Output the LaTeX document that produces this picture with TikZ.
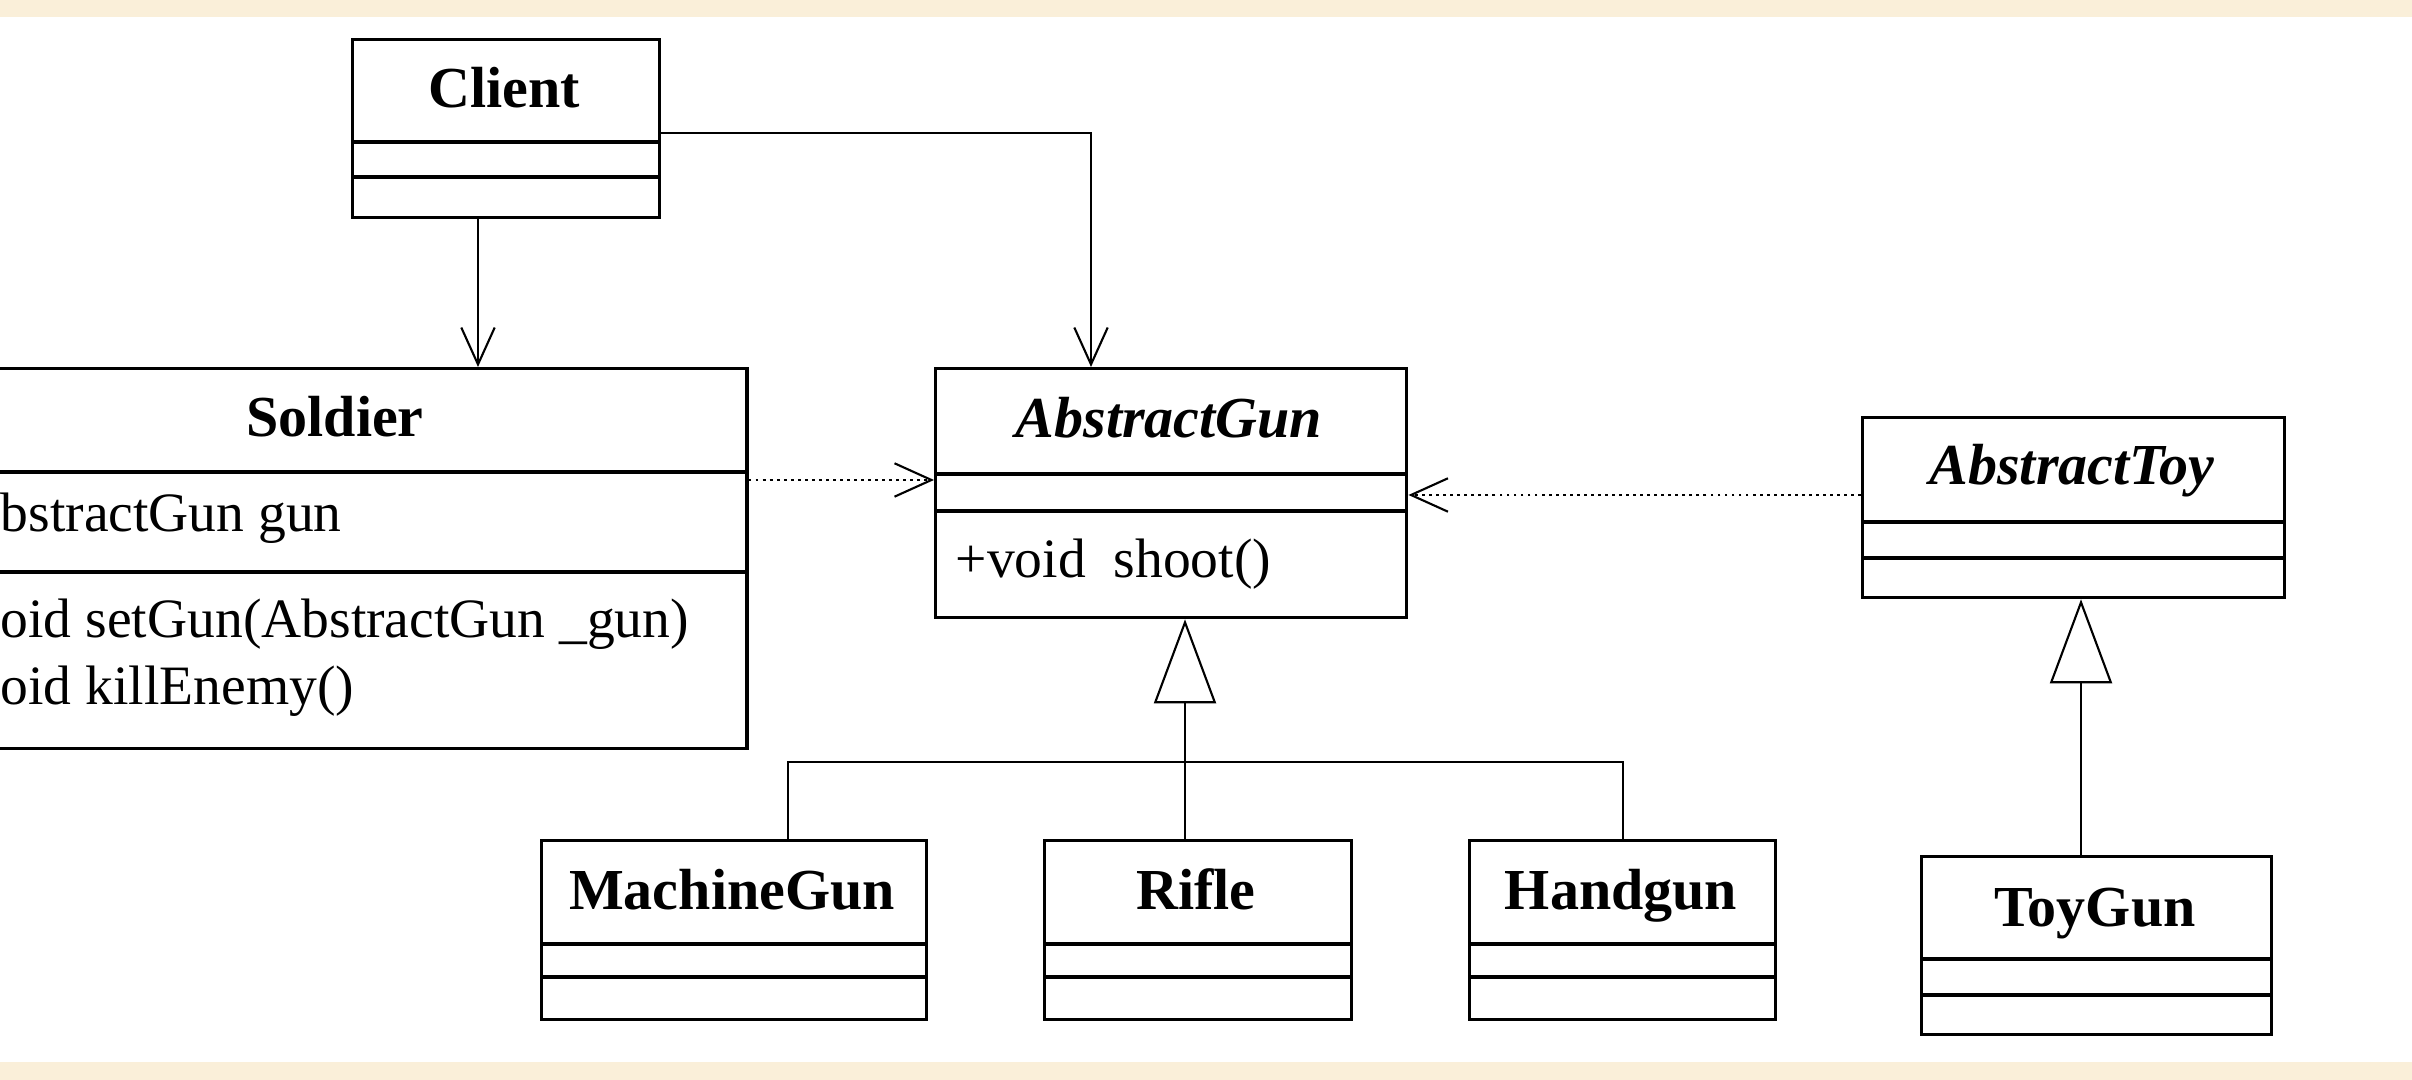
\documentclass[tikz,border=0pt]{standalone}
\usepackage{fontspec}
\setmainfont{Liberation Serif}
\usetikzlibrary{arrows.meta}

\definecolor{cream}{RGB}{250,239,217}

\begin{document}
\begin{tikzpicture}[
    x=0.01cm, y=-0.01cm,
    font=\fontsize{15.8}{19}\selectfont,
    cls/.style={draw=black, line width=0.9pt, fill=white, anchor=north west, inner sep=0pt, minimum height=1.78cm},
    clsname/.style={font=\fontsize{16.5}{20}\selectfont\bfseries, anchor=base, inner sep=0pt},
    absname/.style={clsname, font=\fontsize{16.5}{20}\selectfont\bfseries\itshape},
    member/.style={anchor=base west, inner sep=0pt},
    divider/.style={line width=0.9pt},
    link/.style={line width=0.6pt},
    assoc/.style={link, -{Straight Barb[length=10.5pt, width=9.5pt]}},
    dep/.style={assoc, dash pattern=on 0.8pt off 1.2pt},
    inherit/.style={link, -{Triangle[open, length=0.84cm, width=0.62cm, fill=white]}}
]
\useasboundingbox (0,0) rectangle (2412,1080);
\clip (0,0) rectangle (2412,1080);
\fill[cream] (0,0) rectangle (2412,1080);
\fill[white] (0,17) rectangle (2412,1062);

% classes
\node[cls, minimum width=3.07cm] (client) at (351,38) {};
\node[cls, minimum width=8.2cm, minimum height=3.8cm] (soldier) at (-75,367) {};
\node[cls, minimum width=4.71cm, minimum height=2.49cm] (agun) at (934,367) {};
\node[cls, minimum width=4.22cm, minimum height=1.8cm] (atoy) at (1861,416) {};
\node[cls, minimum width=3.85cm, minimum height=1.79cm] (mgun) at (540,839) {};
\node[cls, minimum width=3.07cm, minimum height=1.79cm] (rifle) at (1043,839) {};
\node[cls, minimum width=3.06cm, minimum height=1.79cm] (hgun) at (1468,839) {};
\node[cls, minimum width=3.5cm] (toygun) at (1920,855) {};

% compartments
\draw[divider] (client.west |- 0,142) -- (client.east |- 0,142) (client.west |- 0,177) -- (client.east |- 0,177);
\draw[divider] (soldier.west |- 0,472) -- (soldier.east |- 0,472) (soldier.west |- 0,572) -- (soldier.east |- 0,572);
\draw[divider] (agun.west |- 0,474) -- (agun.east |- 0,474) (agun.west |- 0,511) -- (agun.east |- 0,511);
\draw[divider] (atoy.west |- 0,522) -- (atoy.east |- 0,522) (atoy.west |- 0,558) -- (atoy.east |- 0,558);
\draw[divider] (mgun.west |- 0,944) -- (mgun.east |- 0,944) (mgun.west |- 0,977) -- (mgun.east |- 0,977);
\draw[divider] (rifle.west |- 0,944) -- (rifle.east |- 0,944) (rifle.west |- 0,977) -- (rifle.east |- 0,977);
\draw[divider] (hgun.west |- 0,944) -- (hgun.east |- 0,944) (hgun.west |- 0,977) -- (hgun.east |- 0,977);
\draw[divider] (toygun.west |- 0,959) -- (toygun.east |- 0,959) (toygun.west |- 0,995) -- (toygun.east |- 0,995);

% names and members
\node[clsname] (client-n) at (504.5,108) {Client};
\node[clsname] (soldier-n) at (335,437) {Soldier};
\node[absname] (agun-n) at (1169,438) {AbstractGun};
\node[absname] (atoy-n) at (2072,485) {AbstractToy};
\node[clsname] (mgun-n) at (732,910) {MachineGun};
\node[clsname] (rifle-n) at (1196,910) {Rifle};
\node[clsname] (hgun-n) at (1621,910) {Handgun};
\node[clsname] (toygun-n) at (2095,927) {ToyGun};

\node[member] (soldier-a) at (0,532) {bstractGun gun};
\node[member] (soldier-m1) at (0,638) {oid setGun(AbstractGun \_gun)};
\node[member] (soldier-m2) at (0,705) {oid killEnemy()};
\node[member] (agun-m) at (955,578) {+void~~shoot()};

% relations
\coordinate (bus) at (1185,762);
\draw[assoc] (client.south -| 478,0) -- (soldier.north -| 478,0);
\draw[assoc] (client.east |- 0,133) -| (agun.north -| 1091,0);
\draw[dep] (soldier.east |- 0,480) -- (agun.west |- 0,480);
\draw[dep] (atoy.west |- 0,495) -- (agun.east |- 0,495);
\draw[inherit] (bus) -- (agun.south -| bus);
\draw[link] (rifle.north -| bus) -- (bus);
\draw[link] (mgun.north -| 788,0) |- (bus) -| (hgun.north);
\draw[inherit] (toygun.north -| 2081,0) -- (atoy.south -| 2081,0);

\end{tikzpicture}
\end{document}
